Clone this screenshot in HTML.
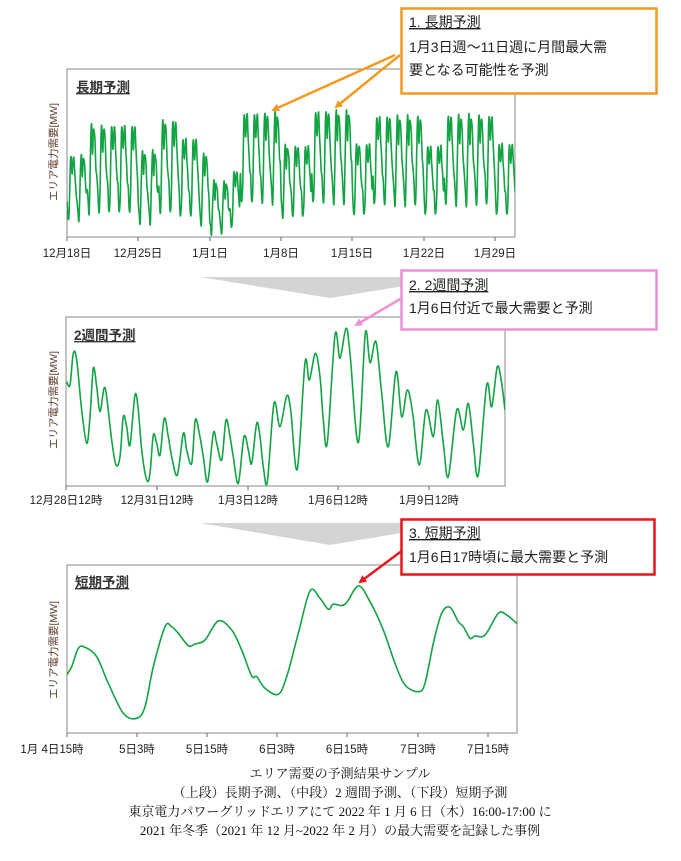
<!DOCTYPE html>
<html><head><meta charset="utf-8">
<style>
html,body{margin:0;padding:0;background:#fff;}
svg{display:block;font-family:"Liberation Sans","Noto Sans CJK JP",sans-serif;}
.t{font-size:11.5px;fill:#222;}
.cap{font-family:"Liberation Serif","Noto Serif CJK SC",serif;font-size:13px;fill:#111;}
.cb{font-size:14px;fill:#222;}
</style></head><body>
<svg id="s" width="681" height="861" viewBox="0 0 681 861" xmlns="http://www.w3.org/2000/svg">
<defs>
<marker id="ao" markerWidth="8" markerHeight="8" refX="6" refY="4" orient="auto" markerUnits="userSpaceOnUse"><path d="M0,0 L8,4 L0,8 z" fill="#f39a1e"/></marker>
<marker id="ap" markerWidth="8" markerHeight="8" refX="6" refY="4" orient="auto" markerUnits="userSpaceOnUse"><path d="M0,0 L8,4 L0,8 z" fill="#ee8fd8"/></marker>
<marker id="ar" markerWidth="8" markerHeight="8" refX="6" refY="4" orient="auto" markerUnits="userSpaceOnUse"><path d="M0,0 L8,4 L0,8 z" fill="#e8141b"/></marker>
<clipPath id="c1"><rect x="67" y="69" width="448" height="168"/></clipPath>
<clipPath id="c2"><rect x="66" y="317" width="439" height="169"/></clipPath>
<clipPath id="c3"><rect x="67" y="565" width="450" height="168"/></clipPath>
</defs>
<!-- chart 1 -->
<rect x="67" y="69" width="448" height="168" fill="#fff" stroke="#888" stroke-width="1"/>
<text x="76" y="92" font-size="13.5" font-weight="bold" fill="#333" text-decoration="underline">長期予測</text>
<text transform="translate(57,152) rotate(-90)" text-anchor="middle" font-size="10.5" fill="#5a3a2a">エリア電力需要[MW]</text>
<path id="p1" fill="none" stroke="#12a343" stroke-width="1.6" clip-path="url(#c1)"/>
<g id="t1"></g>
<line x1="395" y1="55" x2="273" y2="110" stroke="#f39a1e" stroke-width="2.5" marker-end="url(#ao)"/>
<line x1="400" y1="55" x2="336" y2="107" stroke="#f39a1e" stroke-width="2.5" marker-end="url(#ao)"/>
<rect x="401.5" y="8.5" width="255" height="85" fill="#fff" stroke="#f39a1e" stroke-width="2.5"/>
<text class="cb" x="409" y="27" text-decoration="underline">1. 長期予測</text>
<text class="cb" x="409" y="52">1月3日週～11日週に月間最大需</text>
<text class="cb" x="409" y="75">要となる可能性を予測</text>
<polygon points="200,277 460,277 330,298" fill="#d4d4d4"/>
<!-- chart 2 -->
<rect x="66" y="317" width="439" height="169" fill="#fff" stroke="#888" stroke-width="1"/>
<text x="74" y="340" font-size="13.5" font-weight="bold" fill="#333" text-decoration="underline">2週間予測</text>
<text transform="translate(57,400) rotate(-90)" text-anchor="middle" font-size="10.5" fill="#5a3a2a">エリア電力需要[MW]</text>
<path id="p2" fill="none" stroke="#12a343" stroke-width="1.6" clip-path="url(#c2)"/>
<g id="t2"></g>
<line x1="402" y1="298" x2="356" y2="325" stroke="#ee8fd8" stroke-width="2.5" marker-end="url(#ap)"/>
<rect x="401.5" y="270.5" width="255" height="59" fill="#fff" stroke="#ee8fd8" stroke-width="2.5"/>
<text class="cb" x="409" y="290" text-decoration="underline">2. 2週間予測</text>
<text class="cb" x="409" y="313">1月6日付近で最大需要と予測</text>
<polygon points="200,523 460,523 330,545" fill="#d4d4d4"/>
<!-- chart 3 -->
<rect x="67" y="565" width="450" height="168" fill="#fff" stroke="#888" stroke-width="1"/>
<text x="75" y="587" font-size="13.5" font-weight="bold" fill="#333" text-decoration="underline">短期予測</text>
<text transform="translate(57,650) rotate(-90)" text-anchor="middle" font-size="10.5" fill="#5a3a2a">エリア電力需要[MW]</text>
<path id="p3" fill="none" stroke="#12a343" stroke-width="1.6" clip-path="url(#c3)"/>
<g id="t3"></g>
<line x1="403" y1="550" x2="360" y2="582" stroke="#e8141b" stroke-width="2.5" marker-end="url(#ar)"/>
<rect x="401.5" y="519.5" width="253" height="55" fill="#fff" stroke="#e8141b" stroke-width="2.5"/>
<text class="cb" x="409" y="538" text-decoration="underline">3. 短期予測</text>
<text class="cb" x="409" y="562">1月6日17時頃に最大需要と予測</text>
<text class="cap" x="340" y="778" text-anchor="middle">エリア需要の予測結果サンプル</text>
<text class="cap" x="340" y="797" text-anchor="middle">（上段）長期予測、（中段）2 週間予測、（下段）短期予測</text>
<text class="cap" x="340" y="816" text-anchor="middle">東京電力パワーグリッドエリアにて 2022 年 1 月 6 日（木）16:00-17:00 に</text>
<text class="cap" x="340" y="835" text-anchor="middle">2021 年冬季（2021 年 12 月~2022 年 2 月）の最大需要を記録した事例</text>
</svg>
<script>
function cr(pts){let d="M"+pts[0][0]+","+pts[0][1];for(let i=0;i<pts.length-1;i++){const p0=pts[Math.max(0,i-1)],p1=pts[i],p2=pts[i+1],p3=pts[Math.min(pts.length-1,i+2)];const c1=[p1[0]+(p2[0]-p0[0])/6,p1[1]+(p2[1]-p0[1])/6],c2=[p2[0]-(p3[0]-p1[0])/6,p2[1]-(p3[1]-p1[1])/6];d+=" C"+c1[0].toFixed(1)+","+c1[1].toFixed(1)+" "+c2[0].toFixed(1)+","+c2[1].toFixed(1)+" "+p2[0].toFixed(1)+","+p2[1].toFixed(1);}return d;}
function ticks(id,xs,y,labels,ty){let g=document.getElementById(id),h="";xs.forEach((x,i)=>{h+=`<line x1="${x}" y1="${y}" x2="${x}" y2="${y+4}" stroke="#666"/>`;h+=`<text class="t" x="${x}" y="${ty}" text-anchor="middle">${labels[i]}</text>`;});g.innerHTML=h;}
(function(){const x0=67,x1=515,pxd=10.2;const pts=[];
const shape=[0.3,0.08,0.02,0.35,0.9,1.0,0.72,0.92,0.98,0.8,0.55,0.4];
const L={};
function set(a,b,pk,tr){for(let d=a;d<=b;d++)L[d]=[pk,tr];}
set(0,1,157,220);set(2,6,127,213);set(7,8,153,223);set(9,10,122,213);set(11,12,140,217);set(13,13,155,225);
set(14,16,183,233);set(16,16,172,228);set(17,20,115,203);set(21,23,147,217);set(24,27,113,203);set(28,29,145,215);
set(30,34,118,205);set(35,36,147,215);set(37,41,117,205);set(42,44,145,215);
for(let d=0;d<45;d++){const [pk,tr]=L[d];for(let h=0;h<12;h++){const x=x0+(d+h/12)*pxd;if(x>x1+3)break;const j=Math.sin(d*7.3+h*3.1)*3;pts.push([x,tr-(tr-pk)*shape[h]+j]);}}
document.getElementById("p1").setAttribute("d",cr(pts));
ticks("t1",[67,138,210,281,352,424,495],237,["12月18日","12月25日","1月1日","1月8日","1月15日","1月22日","1月29日"],257);})();
(function(){const z=[[80,215],[90,225],[100,130],[110,150],[125,300],[140,400],[150,320],[160,175],[170,230],[180,305],[192,235],[200,260],[215,390],[228,465],[240,440],[250,320],[260,350],[270,405],[285,255],[295,300],[305,420],[320,510],[330,490],[340,375],[350,400],[360,435],[373,325],[385,380],[395,440],[412,495],[430,370],[440,420],[455,460],[466,330],[478,370],[490,440],[503,515],[520,370],[530,400],[545,450],[558,330],[570,380],[580,440],[595,520],[612,380],[625,420],[635,460],[650,340],[660,380],[670,470],[682,515],[702,280],[720,350],[740,258],[752,300],[772,478],[795,158],[808,210],[826,130],[840,200],[850,330],[862,398],[885,75],[900,145],[918,55],[930,130],[955,398],[976,70],[990,158],[1008,95],[1025,250],[1045,410],[1068,185],[1085,320],[1102,240],[1118,310],[1138,465],[1158,300],[1180,380],[1193,270],[1210,400],[1225,500],[1250,300],[1270,360],[1285,280],[1300,400],[1315,495],[1340,225],[1355,290],[1372,170],[1385,220],[1395,300]];
document.getElementById("p2").setAttribute("d",cr(z.map(p=>[40+p[0]/3,310+p[1]/3])));
ticks("t2",[66,157,248,338,429],486,["12月28日12時","12月31日12時","1月3日12時","1月6日12時","1月9日12時"],504);})();
(function(){const z=[[140,345],[155,320],[175,265],[195,262],[230,290],[265,370],[310,460],[350,475],[375,440],[400,320],[435,200],[455,200],[475,220],[505,257],[525,252],[555,240],[595,183],[635,210],[665,270],[695,348],[710,350],[735,385],[775,403],[800,350],[835,220],[870,93],[900,115],[925,148],[940,133],[975,133],[1015,78],[1050,125],[1090,210],[1125,310],[1155,375],[1195,395],[1215,370],[1240,250],[1265,160],[1290,142],[1315,185],[1330,200],[1350,235],[1365,228],[1395,225],[1435,160],[1460,165],[1490,190],[1500,200]];
document.getElementById("p3").setAttribute("d",cr(z.map(p=>[20+p[0]/3,560+p[1]/3])));
ticks("t3",[67,137,207,277,347,418,488],733,["1月 4日15時","5日3時","5日15時","6日3時","6日15時","7日3時","7日15時"],753);
document.querySelector("#t3 text").setAttribute("x","52");})();
</script>
</body></html>
